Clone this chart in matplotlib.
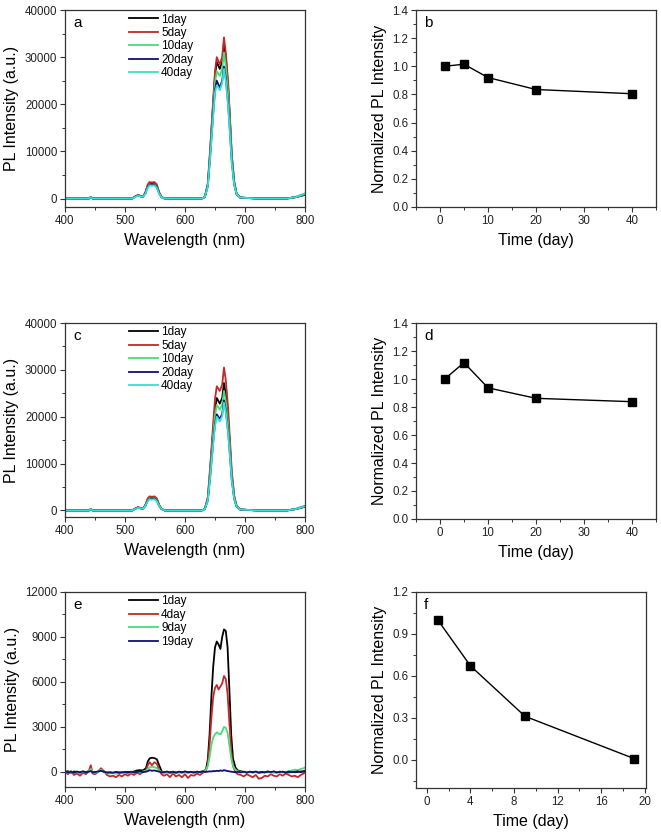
import matplotlib
matplotlib.use("Agg")
import matplotlib.pyplot as plt
from matplotlib.ticker import MultipleLocator, AutoMinorLocator

plt.rcParams['font.family'] = ['Liberation Sans', 'DejaVu Sans']

# ---------------- spectra, panels a and c ----------------
wl_ac = [400, 440, 443, 446, 500, 512, 518, 522, 526, 530, 534, 538, 541, 545, 549, 553, 557, 561, 566,
         600, 628, 633, 638, 642, 647, 650, 653, 658, 662, 665, 668, 672, 675, 678, 682, 686, 692,
         720, 770, 785, 800]

a_1day = [0, 0, 300, 0, 0, 0, 500, 700, 500, 400, 1200, 2700, 3200, 3100, 3200, 2700, 1200, 300, 0,
          0, 0, 300, 3000, 10000, 20000, 26000, 29000, 27500, 29000, 33000, 30000, 23500, 16500, 9000, 3500, 1000, 200,
          0, 0, 300, 800]
a_5day = [0, 0, 300, 0, 0, 0, 500, 750, 550, 450, 1300, 3000, 3500, 3400, 3500, 3000, 1300, 300, 0,
          0, 0, 300, 3100, 10500, 21000, 27000, 30000, 28500, 30000, 34200, 31000, 24500, 17000, 9300, 3600, 1000, 200,
          0, 0, 300, 800]
a_10day = [0, 0, 300, 0, 0, 0, 450, 650, 450, 400, 1100, 2500, 3000, 2900, 3000, 2500, 1100, 300, 0,
           0, 0, 300, 2800, 9500, 19000, 24500, 27000, 26000, 27500, 31000, 28000, 22000, 15500, 8500, 3300, 1000, 200,
           0, 0, 400, 1100]
a_20day = [0, 0, 300, 0, 0, 0, 450, 650, 450, 400, 1100, 2500, 2900, 2800, 2900, 2500, 1100, 300, 0,
           0, 0, 300, 2600, 9000, 18000, 23000, 25000, 23500, 25000, 28000, 25500, 20000, 14000, 7800, 3000, 900, 200,
           0, 0, 300, 900]
a_40day = [0, 0, 300, 0, 0, 0, 400, 600, 450, 400, 1000, 2300, 2800, 2700, 2800, 2300, 1000, 300, 0,
           0, 0, 300, 2500, 8700, 17500, 22500, 24000, 23000, 24500, 27500, 25000, 19500, 13500, 7500, 2900, 900, 200,
           0, 0, 300, 1000]

c_1day = [0, 0, 300, 0, 0, 0, 450, 650, 450, 400, 1100, 2400, 2800, 2700, 2800, 2400, 1100, 300, 0,
          0, 0, 300, 2500, 8500, 17000, 21500, 24000, 22800, 24000, 27200, 24800, 19300, 13500, 7400, 2900, 900, 200,
          0, 0, 300, 800]
c_5day = [0, 0, 300, 0, 0, 0, 500, 700, 500, 400, 1200, 2600, 3000, 2900, 3000, 2600, 1200, 300, 0,
          0, 0, 300, 2800, 9300, 18500, 23800, 26500, 25500, 26800, 30500, 27800, 21600, 15000, 8300, 3200, 1000, 200,
          0, 0, 300, 800]
c_10day = [0, 0, 300, 0, 0, 0, 400, 600, 450, 400, 1000, 2200, 2600, 2500, 2600, 2200, 1000, 300, 0,
           0, 0, 300, 2300, 8000, 16000, 20200, 22500, 21500, 22600, 25500, 23300, 18100, 12700, 7000, 2700, 900, 200,
           0, 0, 400, 1000]
c_20day = [0, 0, 300, 0, 0, 0, 400, 600, 450, 400, 1000, 2100, 2500, 2400, 2500, 2100, 1000, 300, 0,
           0, 0, 300, 2100, 7300, 14600, 18400, 20500, 19500, 20600, 23500, 21400, 16700, 11700, 6500, 2500, 800, 200,
           0, 0, 300, 900]
c_40day = [0, 0, 300, 0, 0, 0, 400, 550, 450, 400, 1000, 2000, 2400, 2300, 2400, 2000, 1000, 300, 0,
           0, 0, 300, 2050, 7100, 14200, 18000, 20000, 19000, 20100, 23000, 21000, 16300, 11400, 6300, 2450, 800, 200,
           0, 0, 300, 900]

# ---------------- spectra, panel e ----------------
wl_e = [400, 405, 410, 415, 420, 425, 430, 435, 440, 443, 446,
        450, 455, 460, 465, 470, 475, 480, 485, 490, 495, 500, 505, 510, 515, 520, 525, 530, 535,
        538, 541, 545, 549, 553, 557, 561,
        565, 570, 575, 580, 585, 590, 595, 600, 605, 610, 615, 620, 625, 630, 635,
        638, 641, 644, 647, 650, 653, 656, 659, 662, 665, 668, 671, 674, 677, 680, 684, 688,
        693, 698, 703, 708, 713, 718, 723, 728, 733, 738, 743, 748, 753, 758, 763, 768, 773, 778,
        783, 788, 793, 798, 800]

e_1day = [0, 50, -50, 30, 0, -40, 20, 0, 50, 150, 0,
          -30, 20, 100, 0, -50, -30, -60, -40, -20, -50, -30, 0, -20, 30, 100, 120, 100, 250,
          700, 900, 950, 920, 850, 450, 50,
          -20, 0, -30, 20, -40, 0, -20, 10, -30, 0, -20, 10, 0, 50, 150,
          800, 2500, 5000, 7000, 8300, 8700, 8500, 8200, 9000, 9500, 9400, 8300, 5500, 2500, 900, 300, 100,
          50, 0, -30, 20, -20, 0, -40, 0, -20, 30, -10, 0, -30, 20, -20, 0, -30, 10,
          -20, 0, 30, 50, 80]
e_4day = [0, -150, 50, -200, -100, -250, -50, -150, 100, 450, -100,
          -150, 0, 250, 50, -200, -300, -250, -350, -200, -300, -150, -250, -100, -200, -50, -150, 0, 100,
          450, 650, 450, 650, 550, 150, -150,
          -250, -150, -350, -100, -300, -200, -350, -150, -400, -200, -250, -100, -200, -50, 100,
          500, 1800, 3600, 5000, 5600, 5800, 5500, 5700, 5900, 6400, 6200, 5200, 3300, 1400, 400, 0, -150,
          -200, -300, -150, -250, -350, -200, -450, -400, -250, -300, -150, -250, -300, -150, -250, -100, -200, -300,
          -250, -350, -200, -100, 0]
e_9day = [0, -50, 30, -80, 0, -60, 20, -40, 50, 200, 0,
          -50, 0, 150, 20, -80, -100, -80, -120, -60, -100, -50, -80, -30, -60, 0, -40, 30, 80,
          200, 300, 350, 320, 250, 100, 0,
          -50, -30, -80, -20, -60, -40, -70, -20, -60, -30, -40, 0, -20, 30, 150,
          400, 1000, 1800, 2300, 2500, 2650, 2550, 2500, 2700, 3000, 2950, 2600, 1800, 900, 400, 150, 50,
          0, -30, 20, -20, -50, 0, -40, -60, -20, -30, 0, -50, -20, 0, -40, 0, 50, 100,
          150, 120, 200, 250, 300]
e_19day = [50, -30, 20, -50, 30, -20, 40, -30, 20, 60, -20,
           0, 30, 80, 20, -40, -30, -50, 10, -60, -20, 0, -40, 20, -30, 0, 40, -10, 20,
           50, 120, 80, 100, 60, 20, -30,
           -20, 30, -40, 10, -50, 20, -30, 40, -20, 0, -40, 20, -10, 30, 0,
           20, 40, 30, 60, 50, 80, 60, 100, 70, 120, 90, 60, 40, 20, 0, -20, 10,
           -30, 20, -40, 10, -20, 30, -50, 0, -30, 20, -10, 40, -30, 0, 20, -40, 30, -20,
           10, 40, -10, 30, 50]

# ---------------- normalized intensity ----------------
days_bd = [1, 5, 10, 20, 40]
norm_b = [1.0, 1.015, 0.92, 0.835, 0.805]
norm_d = [1.0, 1.117, 0.937, 0.862, 0.838]
days_f = [1, 4, 9, 19]
norm_f = [1.0, 0.672, 0.312, 0.01]

labels_ac = ['1day', '5day', '10day', '20day', '40day']
labels_e = ['1day', '4day', '9day', '19day']
colors = ['#000000', '#c42828', '#48dc7c', '#101070', '#35e0d4']

TICK_FS = 8.3
LABEL_FS = 11.5


def style_axes(ax):
    for s in ax.spines.values():
        s.set_linewidth(0.9)
        s.set_color('#333333')
    ax.tick_params(which='major', direction='out', length=3.5, width=0.8, pad=2,
                   labelsize=TICK_FS, top=False, right=False, colors='#333333', labelcolor='#222222')
    ax.tick_params(which='minor', direction='out', length=2, width=0.7, top=False, right=False,
                   colors='#333333')
    ax.xaxis.set_minor_locator(AutoMinorLocator(2))
    ax.yaxis.set_minor_locator(AutoMinorLocator(2))


def spectrum(ax, wl, series, labels, ymin, ymax, ystep, tag):
    for y, lab, col in zip(series, labels, colors):
        ax.plot(wl, y, color=col, lw=1.3, label=lab)
    ax.set_xlim(400, 800)
    ax.set_ylim(ymin, ymax)
    ax.xaxis.set_major_locator(MultipleLocator(100))
    ax.yaxis.set_major_locator(MultipleLocator(ystep))
    style_axes(ax)
    ax.set_ylabel('PL Intensity (a.u.)', fontsize=LABEL_FS, labelpad=4)
    ax.set_xlabel('Wavelength (nm)', fontsize=LABEL_FS, labelpad=4.5)
    ax.text(0.035, 0.935, tag, transform=ax.transAxes, fontsize=11, va='center', ha='left')
    ax.legend(loc='upper left', bbox_to_anchor=(0.268, 0.982), frameon=False, fontsize=8.5,
              handlelength=2.4, handletextpad=0.3, labelspacing=0.12, borderpad=0, borderaxespad=0)


def normalized(ax, x, y, xlim, xstep, ylim, ystep, tag):
    ax.plot(x, y, color='black', lw=1.0, marker='s', markersize=6)
    ax.set_xlim(*xlim)
    ax.set_ylim(*ylim)
    ax.xaxis.set_major_locator(MultipleLocator(xstep))
    ax.yaxis.set_major_locator(MultipleLocator(ystep))
    style_axes(ax)
    ax.set_ylabel('Normalized PL Intensity', fontsize=LABEL_FS, labelpad=4)
    ax.set_xlabel('Time (day)', fontsize=LABEL_FS, labelpad=4.5)
    ax.text(0.035, 0.935, tag, transform=ax.transAxes, fontsize=11, va='center', ha='left')


fig = plt.figure(figsize=(6.61, 8.34), dpi=100)

ax_a = fig.add_axes([0.0983, 0.7518, 0.3631, 0.2362])
ax_b = fig.add_axes([0.6293, 0.7518, 0.3631, 0.2362])
ax_c = fig.add_axes([0.0983, 0.3801, 0.3631, 0.2326])
ax_d = fig.add_axes([0.6293, 0.3777, 0.3631, 0.2350])
ax_e = fig.add_axes([0.0983, 0.0564, 0.3631, 0.2338])
ax_f = fig.add_axes([0.6293, 0.0552, 0.3480, 0.2350])

spectrum(ax_a, wl_ac, [a_1day, a_5day, a_10day, a_20day, a_40day], labels_ac, -1800, 40000, 10000, 'a')
spectrum(ax_c, wl_ac, [c_1day, c_5day, c_10day, c_20day, c_40day], labels_ac, -1400, 40000, 10000, 'c')
spectrum(ax_e, wl_e, [e_1day, e_4day, e_9day, e_19day], labels_e, -1000, 12000, 3000, 'e')

normalized(ax_b, days_bd, norm_b, (-5, 45), 10, (0, 1.4), 0.2, 'b')
normalized(ax_d, days_bd, norm_d, (-5, 45), 10, (0, 1.4), 0.2, 'd')
normalized(ax_f, days_f, norm_f, (-1, 20.1), 4, (-0.2, 1.2), 0.3, 'f')

fig.savefig('out.png', dpi=100)
